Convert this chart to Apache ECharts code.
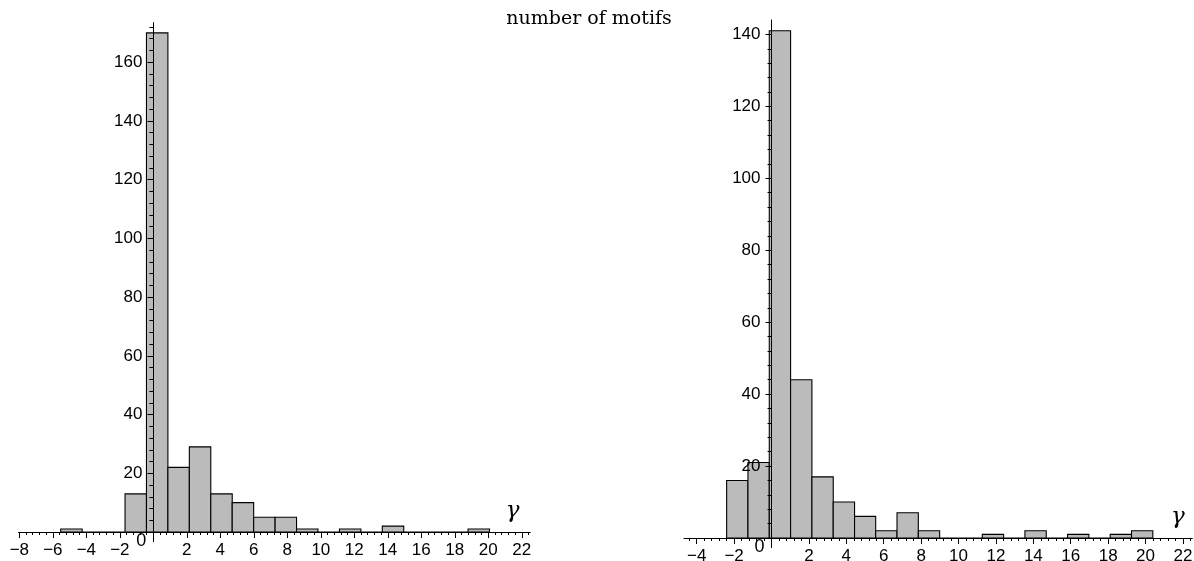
<!DOCTYPE html>
<html>
<head>
<meta charset="utf-8">
<script src="https://cdn.jsdelivr.net/npm/echarts@6/dist/echarts.min.js"></script>
<style>
html,body{margin:0;padding:0;background:#fff;}
#chart{width:1194px;height:561px;}
</style>
</head>
<body>
<div id="chart"></div>
<script>
// ---- data ----
const leftEdges = [-5.53, -4.25, -2.97, -1.69, -0.41, 0.87, 2.15, 3.43, 4.71, 5.99, 7.27, 8.55, 9.83, 11.11, 12.39, 13.67, 14.95, 16.23, 17.51, 18.79, 20.07];
const leftCounts = [1, 0, 0, 13, 170, 22, 29, 13, 10, 5, 5, 1, 0, 1, 0, 2, 0, 0, 0, 1];
const rightEdges = [-2.40, -1.26, -0.12, 1.02, 2.16, 3.30, 4.44, 5.57, 6.71, 7.85, 8.99, 10.13, 11.27, 12.41, 13.55, 14.69, 15.83, 16.97, 18.11, 19.25, 20.39];
const rightCounts = [16, 21, 141, 44, 17, 10, 6, 2, 7, 2, 0, 0, 1, 0, 2, 0, 1, 0, 1, 2];
const leftXTicks = [-8, -6, -4, -2, 2, 4, 6, 8, 10, 12, 14, 16, 18, 20, 22];
const rightXTicks = [-4, -2, 2, 4, 6, 8, 10, 12, 14, 16, 18, 20, 22];
const leftYTicks = [20, 40, 60, 80, 100, 120, 140, 160];
const rightYTicks = [20, 40, 60, 80, 100, 120, 140];
const titleText = 'number of motifs';
const xName = 'γ';
const originLabel = '0';

function toBins(edges, counts) {
  return counts.map((c, i) => [edges[i], edges[i + 1], c]);
}
function range(a, b, step) {
  const out = [];
  for (let k = 0; a + k * step <= b + 1e-9; k++) out.push(+(a + k * step).toFixed(2));
  return out;
}
const fmt = v => (v < 0 ? '\u2212' + Math.abs(v) : String(v));
const FONT = 'Liberation Sans';

function renderBar(params, api) {
  const p0 = api.coord([api.value(0), 0]);
  const p1 = api.coord([api.value(1), api.value(2)]);
  return {
    type: 'rect',
    shape: {x: p0[0], y: p1[1], width: p1[0] - p0[0], height: p0[1] - p1[1]},
    style: {fill: '#bbbbbb', stroke: '#000', lineWidth: 1.1}
  };
}

// panel layout (pixels) and axis ranges
const panels = [
  {left: 18.5, top: 22.6, width: 511.7, height: 509.4, xmin: -8.05, xmax: 22.5, ymax: 173.5,
   xMajor: leftXTicks, yMajor: leftYTicks, xMinorStart: -8, yMinorEnd: 172,
   edges: leftEdges, counts: leftCounts},
  {left: 684, top: 20, width: 508.3, height: 518, xmin: -4.68, xmax: 22.5, ymax: 144,
   xMajor: rightXTicks, yMajor: rightYTicks, xMinorStart: -4.4, yMinorEnd: 140,
   edges: rightEdges, counts: rightCounts}
];

const grids = [], xAxes = [], yAxes = [], series = [], graphics = [];
panels.forEach((p, i) => {
  const dataGrid = grids.length;
  grids.push({left: p.left, top: p.top, width: p.width, height: p.height, containLabel: false, outerBoundsMode: 'none'});
  const axisX = p.left + (0 - p.xmin) / (p.xmax - p.xmin) * p.width;
  const axisGrid = grids.length;
  grids.push({left: axisX, top: p.top, width: 10, height: p.height, containLabel: false, outerBoundsMode: 'none'});

  const xMain = xAxes.length;
  xAxes.push({
    type: 'value', gridIndex: dataGrid, min: p.xmin, max: p.xmax, position: 'bottom', z: 4,
    axisLine: {show: true, onZero: false, lineStyle: {color: '#000', width: 1}},
    axisTick: {show: true, customValues: p.xMajor, length: 6, lineStyle: {color: '#000'}},
    axisLabel: {show: true, customValues: p.xMajor, formatter: fmt, margin: 10, color: '#000', fontFamily: FONT, fontSize: 17},
    splitLine: {show: false}
  });
  xAxes.push({
    type: 'value', gridIndex: dataGrid, min: p.xmin, max: p.xmax, position: 'bottom', z: 4,
    axisLine: {show: false, onZero: false},
    axisTick: {show: true, customValues: range(p.xMinorStart, 22.4, 0.4), length: 3, lineStyle: {color: '#000'}},
    axisLabel: {show: false}, splitLine: {show: false}
  });
  // y axis line continues a little below the x axis at the origin
  xAxes.push({
    type: 'value', gridIndex: dataGrid, min: p.xmin, max: p.xmax, position: 'bottom', z: 4,
    axisLine: {show: false, onZero: false},
    axisTick: {show: true, customValues: [0], length: 10, lineStyle: {color: '#000'}},
    axisLabel: {show: false}, splitLine: {show: false}
  });
  const yData = yAxes.length;
  yAxes.push({type: 'value', gridIndex: dataGrid, min: 0, max: p.ymax, show: false, splitLine: {show: false}});

  // y axis drawn at x = 0
  xAxes.push({type: 'value', gridIndex: axisGrid, min: 0, max: 1, show: false, splitLine: {show: false}});
  yAxes.push({
    type: 'value', gridIndex: axisGrid, min: 0, max: p.ymax, position: 'left', z: 5,
    axisLine: {show: true, onZero: false, lineStyle: {color: '#000', width: 1}},
    axisTick: {show: true, customValues: p.yMajor, length: 6, lineStyle: {color: '#000'}},
    axisLabel: {show: true, customValues: p.yMajor, formatter: fmt, margin: 11, color: '#000', fontFamily: FONT, fontSize: 17},
    splitLine: {show: false}
  });
  yAxes.push({
    type: 'value', gridIndex: axisGrid, min: 0, max: p.ymax, position: 'left', z: 5,
    axisLine: {show: false, onZero: false},
    axisTick: {show: true, customValues: range(4, p.yMinorEnd, 4), length: 4, lineStyle: {color: '#000'}},
    axisLabel: {show: false}, splitLine: {show: false}
  });

  series.push({type: 'custom', xAxisIndex: xMain, yAxisIndex: yData, renderItem: renderBar,
    data: toBins(p.edges, p.counts), z: 2});

  const bottom = p.top + p.height;
  // origin "0" label, down-left of the origin
  graphics.push({type: 'text', x: axisX - 12, y: bottom + 9, z: 10,
    style: {text: originLabel, fill: '#000', font: '18px "Liberation Sans"', align: 'center', verticalAlign: 'middle'}});
  // gamma axis name near the right end of x axis
  graphics.push({type: 'text', x: p.left + p.width - (i === 0 ? 17.5 : 14.5), y: bottom - 21, z: 10,
    style: {text: xName, fill: '#000', font: 'italic 23px "DejaVu Serif"', align: 'center', verticalAlign: 'middle'}});
});

const chart = echarts.init(document.getElementById('chart'), null, {renderer: 'canvas'});
chart.setOption({
  animation: false,
  backgroundColor: '#fff',
  title: {
    text: titleText, left: 589, top: 10, textAlign: 'center', padding: 0,
    textStyle: {fontFamily: 'DejaVu Serif', fontWeight: 'normal', fontSize: 19, color: '#000'}
  },
  grid: grids,
  xAxis: xAxes,
  yAxis: yAxes,
  series: series,
  graphic: graphics
});
</script>
</body>
</html>
